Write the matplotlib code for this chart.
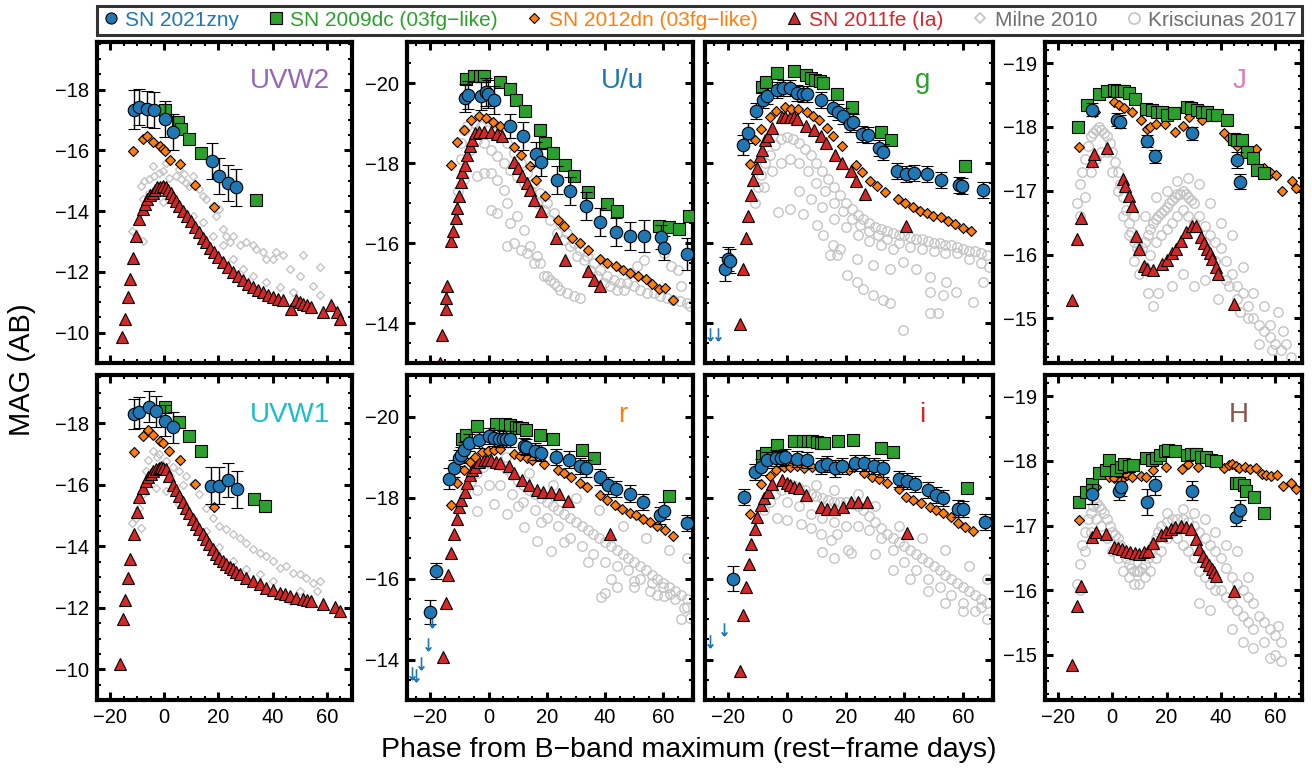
import numpy as np
import matplotlib
matplotlib.use('Agg')
import matplotlib.pyplot as plt
from matplotlib.ticker import MultipleLocator
from matplotlib.lines import Line2D
from matplotlib.path import Path

# ---------------- data (phase [d], abs mag, [err]) ----------------
# UVW2
uvw2_zny = [(-11.1, -17.34, 0.65), (-9.3, -17.43, 0.6), (-6.2, -17.37, 0.6), (-3.7, -17.34, 0.6),
            (0.3, -17.04, 0.6), (3.3, -16.6, 0.6), (17.5, -15.65, 0.6), (20.4, -15.16, 0.6),
            (23.5, -14.92, 0.6), (26.5, -14.78, 0.6)]
uvw2_09dc = [(0.2, -17.34), (5.2, -16.93), (6.2, -16.71), (9.0, -16.38), (13.6, -15.9), (33.7, -14.37)]
uvw2_12dn = [(-11.4, -15.98), (-8.0, -16.38), (-6.2, -16.47), (-4.1, -16.29), (-1.6, -16.14), (-0.6, -16.05),
             (0.2, -15.97), (2.1, -15.7), (5.9, -15.54), (11.5, -14.85), (18.3, -14.14)]
uvw2_11fe = [(-15.4, -9.86), (-14.4, -10.46), (-13.3, -11.17), (-12.6, -11.77), (-11.4, -12.45), (-10.5, -13.19),
             (-9.3, -13.74), (-8.0, -14.07), (-7.0, -14.25), (-6.2, -14.39), (-5.2, -14.52), (-4.3, -14.61),
             (-3.4, -14.7), (-2.5, -14.78), (-1.5, -14.81), (-0.6, -14.83), (0.6, -14.78), (1.5, -14.7),
             (2.5, -14.61), (3.4, -14.48), (4.3, -14.34), (5.5, -14.17), (6.8, -14.0), (8.3, -13.84),
             (9.9, -13.68), (11.5, -13.48), (13.0, -13.3), (14.2, -13.13), (15.4, -12.97), (17.0, -12.8),
             (18.5, -12.64), (20.0, -12.48), (21.6, -12.32), (23.4, -12.15), (25.3, -11.99), (27.1, -11.85),
             (29.0, -11.72), (30.8, -11.6), (32.7, -11.5), (34.5, -11.41), (36.4, -11.33), (38.2, -11.25),
             (40.1, -11.17), (42.0, -11.1), (43.8, -11.06), (46.9, -10.79), (48.8, -11.06), (50.0, -11.0),
             (51.2, -10.95), (52.8, -10.9), (54.3, -10.84), (58.6, -10.68), (61.7, -10.9), (63.6, -10.68),
             (64.8, -10.46)]
uvw2_milne = [(-11.7, -13.36), (-9.9, -13.14), (-8.0, -13.03), (-8.6, -14.83), (-7.4, -15.0), (-5.5, -15.05),
              (-3.7, -15.16), (-1.8, -15.27), (-0.6, -15.33), (1.9, -15.1), (4.3, -15.16), (6.2, -15.05),
              (8.0, -14.94), (9.3, -14.83), (10.5, -15.16), (13.0, -14.72), (14.2, -14.5), (15.4, -14.4),
              (17.9, -14.18), (19.1, -13.85), (20.4, -14.07), (21.6, -13.41), (22.8, -13.19), (24.1, -12.98),
              (25.3, -13.19), (27.8, -12.87), (30.3, -12.98), (32.7, -12.87), (34.0, -12.76), (36.4, -12.65),
              (37.7, -12.43), (40.1, -12.43), (41.4, -12.65), (43.8, -12.54), (46.3, -12.1), (50.0, -11.88),
              (51.2, -12.54), (57.4, -12.16), (57.4, -11.23), (54.9, -11.55), (-8.0, -14.4), (-5.5, -14.61),
              (-3.1, -14.5), (-0.6, -14.29), (3.1, -14.29), (6.8, -14.01), (10.5, -13.85), (14.2, -13.63),
              (17.9, -13.19), (21.6, -12.87), (25.3, -12.43), (29.0, -12.1), (32.7, -11.88), (37.7, -11.66),
              (42.6, -11.5), (47.5, -11.34), (-4.3, -15.49), (0.6, -15.6), (5.6, -15.38), (7.4, -15.22)]

# UVW1
uvw1_zny = [(-11.1, -18.30, 0.5), (-9.2, -18.36, 0.5), (-5.5, -18.54, 0.5), (-3.1, -18.39, 0.5),
            (0.3, -18.09, 0.5), (3.3, -17.87, 0.5), (17.3, -15.97, 0.6), (20.4, -15.97, 0.6),
            (23.5, -16.15, 0.55), (26.8, -15.86, 0.6)]
uvw1_09dc = [(0.3, -18.54), (5.3, -18.03), (9.0, -17.57), (13.6, -17.09), (33.3, -15.53), (37.3, -15.32)]
uvw1_12dn = [(-11.3, -17.05), (-8.0, -17.6), (-5.9, -17.78), (-4.1, -17.63), (-1.6, -17.43), (-0.4, -17.35),
             (1.9, -17.11), (5.8, -16.82), (11.5, -16.04), (18.3, -15.28)]
uvw1_11fe = [(-16.4, -10.17), (-15.2, -11.62), (-14.6, -12.24), (-13.3, -12.98), (-12.6, -13.58), (-11.3, -14.39),
             (-10.2, -15.13), (-9.2, -15.59), (-8.0, -15.91), (-6.8, -16.13), (-5.8, -16.26), (-4.9, -16.35),
             (-4.0, -16.44), (-3.1, -16.51), (-2.1, -16.56), (-1.2, -16.59), (-0.3, -16.56), (0.6, -16.51),
             (1.9, -16.29), (3.1, -16.0), (4.3, -15.82), (5.6, -15.64), (6.8, -15.45), (8.0, -15.26),
             (9.3, -15.07), (10.5, -14.88), (11.7, -14.71), (13.0, -14.55), (14.2, -14.39), (15.4, -14.23),
             (16.7, -14.06), (17.9, -13.9), (19.1, -13.76), (20.4, -13.63), (21.6, -13.52), (22.9, -13.41),
             (24.1, -13.33), (25.3, -13.25), (26.6, -13.17), (27.8, -13.09), (30.3, -12.98), (32.7, -12.87),
             (35.2, -12.76), (37.7, -12.65), (40.1, -12.57), (42.6, -12.49), (44.5, -12.44), (46.3, -12.38),
             (48.8, -12.33), (51.2, -12.27), (52.8, -12.24), (54.3, -12.22), (58.7, -12.11), (63.0, -12.02),
             (64.8, -11.89)]
uvw1_milne = [(-11.7, -14.77), (-10.5, -14.93), (-8.6, -14.61), (-9.2, -15.26), (-8.0, -15.7), (-6.8, -16.46),
              (-4.3, -17.11), (-1.8, -17.0), (0.6, -16.78), (3.1, -16.57), (5.6, -16.46), (8.0, -16.29),
              (10.5, -16.02), (13.0, -15.7), (15.4, -15.26), (17.9, -14.93), (20.4, -14.66), (22.9, -14.55),
              (25.3, -14.39), (27.8, -14.28), (30.3, -14.12), (32.7, -13.9), (35.2, -13.79), (37.7, -13.68),
              (40.1, -13.52), (42.6, -13.3), (45.1, -13.36), (47.5, -13.14), (50.0, -13.09), (52.5, -12.98),
              (54.9, -12.82), (57.4, -12.87), (56.2, -12.54), (-3.1, -15.91), (0.6, -15.8), (5.6, -15.37),
              (10.5, -14.93), (15.4, -14.5), (20.4, -13.96), (25.3, -13.52), (30.3, -13.25), (35.2, -13.09),
              (40.1, -12.87), (46.3, -12.22), (50.0, -12.54), (-6.0, -16.8), (-2.5, -16.9), (2.0, -16.3),
              (7.0, -16.0)]

# U/u
u_zny = [(-8.2, -19.63, 0.35), (-7.1, -19.71, 0.35), (-2.7, -19.69, 0.35), (-1.0, -19.79, 0.35),
         (-0.2, -19.73, 0.35), (1.8, -19.58, 0.35), (7.3, -18.93, 0.3), (11.7, -18.68, 0.35),
         (16.2, -18.22, 0.3), (18.1, -18.04, 0.35), (23.5, -17.57, 0.35), (28.0, -17.31, 0.35),
         (33.3, -16.92, 0.35), (38.2, -16.53, 0.35), (43.7, -16.28, 0.35), (48.7, -16.17, 0.35),
         (53.3, -16.18, 0.4), (59.2, -16.15, 0.3), (60.3, -15.88, 0.3), (68.1, -15.73, 0.4)]
u_09dc = [(-7.9, -20.1), (-5.0, -20.17), (-3.0, -20.18), (-1.6, -20.17), (3.9, -20.03), (7.3, -19.85),
          (9.5, -19.58), (12.6, -19.31), (17.5, -18.82), (19.5, -18.5), (22.1, -18.25), (26.4, -17.96),
          (29.5, -17.69), (34.2, -17.29), (40.5, -16.98), (44.1, -16.79), (58.4, -16.43), (61.8, -16.4),
          (65.3, -16.35), (68.7, -16.67)]
u_12dn = [(-12.8, -17.96), (-10.8, -18.54), (-8.5, -18.83), (-6.0, -19.08), (-3.4, -19.19), (-1.0, -19.13),
          (1.6, -19.04), (4.1, -18.92), (8.9, -18.4), (11.2, -18.21), (14.2, -17.92), (16.2, -17.58),
          (19.5, -17.19), (23.8, -16.58), (25.8, -16.43), (28.7, -16.13), (31.3, -16.0), (34.1, -15.83),
          (38.4, -15.6), (40.7, -15.5), (43.8, -15.42), (46.2, -15.33), (48.7, -15.25), (51.2, -15.17),
          (53.9, -15.1), (56.2, -14.98), (58.4, -14.85), (60.5, -14.88), (63.5, -14.58)]
u_11fe = [(-16.5, -13.0), (-15.9, -13.71), (-14.7, -14.35), (-14.5, -14.63), (-14.1, -14.93), (-12.8, -16.04),
          (-12.1, -16.31), (-11.2, -16.62), (-10.8, -16.88), (-10.2, -17.17), (-9.6, -17.54), (-9.0, -17.79),
          (-8.2, -17.96), (-7.3, -18.21), (-6.5, -18.42), (-5.6, -18.58), (-4.5, -18.75), (-3.3, -18.79),
          (-1.6, -18.79), (0.7, -18.77), (3.0, -18.73), (4.7, -18.67), (8.9, -18.04), (10.1, -17.88),
          (11.5, -17.67), (13.3, -17.5), (14.4, -17.33), (15.5, -17.08), (18.1, -16.79), (23.3, -16.13),
          (26.4, -15.58), (34.1, -15.29), (36.1, -15.08), (38.4, -14.93)]
u_kris = [(-9.6, -18.5), (-8.5, -18.83), (-7.3, -18.92), (-5.0, -19.0), (-2.7, -18.92), (-0.5, -18.83),
          (1.8, -18.75), (4.1, -18.67), (6.4, -18.5), (8.7, -18.25), (11.0, -18.0), (13.3, -17.75),
          (15.5, -17.5), (17.8, -17.25), (20.1, -17.0), (22.4, -16.75), (24.7, -16.5), (27.0, -16.25),
          (29.3, -16.0), (31.5, -15.83), (33.8, -15.67), (36.1, -15.5), (38.4, -15.33), (40.7, -15.17),
          (43.0, -15.08), (45.3, -15.0), (47.5, -15.0), (49.8, -14.92), (52.1, -14.83), (54.4, -14.75),
          (56.7, -14.75), (59.0, -14.67), (61.3, -14.63), (63.5, -14.58), (65.8, -14.54), (68.1, -14.5),
          (69.3, -14.42), (-6.2, -18.33), (-3.9, -18.58), (-1.6, -18.5), (0.7, -18.33), (3.0, -18.17),
          (5.3, -18.0), (7.5, -17.83), (9.8, -17.67), (12.1, -17.5), (14.4, -17.33), (16.7, -17.0),
          (18.9, -16.83), (21.2, -16.58), (23.5, -16.25), (25.8, -16.08), (28.1, -15.92), (30.4, -15.67),
          (32.7, -15.58), (34.9, -15.33), (37.2, -15.17), (39.5, -15.0), (41.8, -14.92), (44.1, -14.83),
          (46.4, -14.83), (48.7, -15.25), (51.0, -15.42), (53.3, -15.58), (60.1, -15.75), (62.6, -15.42),
          (64.9, -15.33), (66.1, -14.92), (-3.9, -17.67), (-1.6, -17.75), (0.7, -17.75), (3.0, -17.58),
          (5.3, -17.33), (6.4, -17.0), (0.7, -16.83), (3.0, -16.75), (7.5, -16.5), (9.8, -16.67),
          (12.1, -16.33), (14.4, -15.92), (16.7, -15.67), (17.8, -15.5), (20.1, -15.17), (22.4, -15.0),
          (24.7, -14.83), (27.0, -14.75), (29.3, -14.67), (31.5, -14.63), (6.4, -15.92), (8.7, -16.0),
          (11.0, -15.83), (13.3, -15.75), (15.5, -15.5), (19.0, -15.17), (21.2, -15.08), (23.5, -14.92),
          (-9.6, -18.1), (-8.5, -17.6), (-10.5, -17.3)]

# g
g_zny = [(-21.3, -15.36, 0.3), (-20.3, -15.59, 0.3), (-19.4, -15.55, 0.3), (-14.9, -18.46, 0.25),
         (-13.5, -18.75, 0.25), (-10.6, -19.31, 0.2), (-8.3, -19.58, 0.2), (-6.9, -19.69, 0.2),
         (-3.5, -19.84, 0.2), (-1.3, -19.89, 0.2), (1.0, -19.87, 0.2), (3.5, -19.76, 0.2), (5.3, -19.74, 0.2),
         (6.7, -19.74, 0.2), (11.6, -19.58, 0.2), (15.5, -19.37, 0.2), (17.5, -19.29, 0.2), (19.2, -19.18, 0.2),
         (21.6, -18.98, 0.2), (22.6, -19.02, 0.2), (25.7, -18.73, 0.2), (27.7, -18.7, 0.2), (31.2, -18.38, 0.2),
         (32.8, -18.27, 0.2), (37.3, -17.8, 0.2), (40.5, -17.73, 0.2), (43.2, -17.76, 0.2), (47.7, -17.72, 0.2),
         (52.6, -17.58, 0.2), (58.6, -17.46, 0.2), (59.7, -17.43, 0.2), (66.8, -17.33, 0.2)]
g_09dc = [(-8.6, -19.91), (-7.1, -20.03), (-3.3, -20.26), (2.5, -20.31), (6.5, -20.2), (8.0, -20.14),
          (9.5, -20.09), (11.2, -20.06), (12.4, -20.01), (16.9, -19.73), (22.2, -19.4), (31.9, -18.79),
          (35.5, -18.59), (60.5, -17.92)]
g_12dn = [(-12.8, -17.97), (-10.9, -18.57), (-9.0, -18.85), (-6.0, -19.15), (-3.7, -19.31), (-0.7, -19.4),
          (1.2, -19.36), (3.8, -19.35), (6.7, -19.29), (8.7, -19.18), (10.9, -19.07), (13.5, -18.87),
          (15.8, -18.68), (18.6, -18.42), (23.4, -17.95), (25.6, -17.77), (28.2, -17.55), (30.7, -17.43),
          (33.3, -17.29), (37.9, -17.1), (40.1, -17.0), (43.0, -16.91), (45.2, -16.81), (47.7, -16.75),
          (49.8, -16.68), (52.6, -16.64), (54.9, -16.54), (57.1, -16.48), (60.0, -16.38), (62.8, -16.29)]
g_11fe = [(-16.0, -13.97), (-15.2, -15.36), (-14.0, -16.12), (-13.2, -16.68), (-12.4, -17.2), (-11.5, -17.58),
          (-10.1, -17.88), (-9.4, -18.17), (-8.5, -18.32), (-7.5, -18.59), (-6.6, -18.68), (-5.2, -18.87),
          (-1.8, -19.15), (-0.7, -19.15), (1.0, -19.15), (2.4, -19.15), (3.5, -19.1), (6.5, -18.93),
          (9.2, -18.83), (11.6, -18.68), (13.3, -18.5), (16.3, -18.21), (18.8, -18.01), (21.8, -17.8),
          (23.5, -17.55), (26.5, -17.22), (40.5, -16.42)]
g_kris = [(-11, -17.0), (-10, -17.4), (-9, -17.7), (-7.5, -18.0), (-6, -18.2), (-4, -18.45), (-2, -18.6),
          (0, -18.65), (2, -18.6), (4, -18.5), (6, -18.35), (8, -18.2), (10, -18.0), (12, -17.8), (14, -17.6),
          (16, -17.4), (18, -17.2), (20, -17.0), (22, -16.85), (24, -16.7), (26, -16.6), (28, -16.5),
          (30, -16.4), (32, -16.35), (34, -16.3), (36, -16.25), (38, -16.2), (40, -16.2), (42, -16.15),
          (44, -16.1), (46, -16.1), (48, -16.05), (50, -16.0), (52, -16.0), (54, -15.95), (56, -15.95),
          (58, -15.9), (60, -15.85), (62, -15.8), (64, -15.8), (66, -15.75), (68, -15.7), (69, -15.4),
          (-8, -17.4), (-5, -17.8), (-2, -18.0), (1, -18.1), (4, -18.0), (7, -17.8), (10, -17.5), (13, -17.3),
          (16, -17.0), (19, -16.8), (22, -16.6), (25, -16.45), (28, -16.3), (31, -16.2), (34, -16.1),
          (38, -16.0), (42, -15.9), (46, -15.85), (50, -15.8), (54, -15.75), (58, -15.75), (62, -15.6),
          (66, -15.5), (4, -17.3), (8, -17.1), (12, -16.9), (16, -16.6), (20, -16.4), (24, -16.2), (28, -16.05),
          (32, -15.95), (36, -15.85), (-3.0, -16.77), (1.0, -16.85), (5.5, -16.72), (10.1, -16.44),
          (12.4, -16.19), (15.8, -15.94), (16.9, -15.69), (20.3, -15.2), (23.7, -15.03), (26.0, -14.86),
          (29.4, -14.7), (32.8, -14.57), (35.0, -14.49), (48.6, -14.24), (51.5, -14.24), (39.6, -13.83),
          (14.6, -15.69), (18.0, -15.86), (23.7, -15.61), (29.4, -15.44), (35.0, -15.36), (39.6, -15.52),
          (44.1, -15.36), (48.6, -15.15), (54.3, -15.03), (57.7, -14.78), (63.4, -14.53), (66.8, -15.03),
          (48.6, -14.78), (53.2, -14.7)]
g_lim = [(-26.2, -13.73), (-23.4, -13.73)]

# r
r_zny = [(-20.2, -15.18, 0.3), (-18.2, -16.19, 0.2), (-13.6, -18.47, 0.25), (-11.7, -18.72, 0.2),
         (-10.1, -18.97, 0.2), (-9.6, -19.06, 0.2), (-8.5, -19.18, 0.2), (-6.7, -19.36, 0.2), (-3.3, -19.42, 0.2),
         (0.1, -19.52, 0.2), (1.8, -19.48, 0.2), (3.5, -19.46, 0.2), (4.9, -19.45, 0.2), (6.1, -19.44, 0.2),
         (7.3, -19.44, 0.2), (12.1, -19.27, 0.2), (13.0, -19.26, 0.2), (16.1, -19.14, 0.2), (18.1, -19.11, 0.2),
         (23.3, -19.01, 0.2), (27.7, -18.94, 0.2), (31.3, -18.78, 0.2), (33.3, -18.72, 0.2), (38.4, -18.51, 0.2),
         (41.0, -18.3, 0.2), (43.8, -18.22, 0.2), (48.7, -18.1, 0.2), (53.0, -17.89, 0.2), (59.0, -17.56, 0.2),
         (60.1, -17.68, 0.2), (68.1, -17.38, 0.2)]
r_09dc = [(-9.0, -19.46), (-7.9, -19.54), (-3.9, -19.77), (2.4, -19.83), (5.5, -19.81), (7.5, -19.79),
          (9.3, -19.75), (10.4, -19.73), (11.5, -19.71), (13.0, -19.67), (17.6, -19.54), (22.2, -19.44),
          (32.1, -19.17), (36.3, -18.98), (61.8, -18.05)]
r_12dn = [(-12.8, -17.82), (-10.7, -18.36), (-8.5, -18.68), (-6.4, -18.89), (-4.5, -19.01), (-2.2, -19.12),
          (-0.2, -19.15), (1.8, -19.18), (4.1, -19.19), (8.7, -19.09), (10.9, -19.03), (13.3, -18.98),
          (15.0, -18.94), (19.0, -18.83), (23.8, -18.68), (25.8, -18.6), (28.3, -18.5), (31.3, -18.36),
          (33.8, -18.26), (38.4, -18.06), (40.7, -17.93), (43.3, -17.83), (45.8, -17.73), (48.5, -17.62),
          (50.7, -17.56), (53.0, -17.48), (55.3, -17.4), (57.8, -17.31), (60.7, -17.19), (63.3, -17.05)]
r_11fe = [(-15.7, -14.06), (-14.7, -15.39), (-13.8, -16.09), (-12.8, -16.62), (-11.9, -17.09), (-11.0, -17.46),
          (-10.1, -17.76), (-9.3, -17.95), (-8.2, -18.14), (-7.3, -18.35), (-6.4, -18.56), (-5.6, -18.68),
          (-4.8, -18.75), (-3.3, -18.88), (-1.6, -18.93), (-0.5, -18.93), (0.7, -18.92), (2.4, -18.89),
          (4.1, -18.85), (7.0, -18.77), (8.7, -18.61), (11.5, -18.44), (13.8, -18.32), (16.7, -18.2),
          (18.7, -18.13), (21.3, -18.15), (24.1, -18.1), (27.2, -17.91), (41.6, -17.11)]
r_kris = [(-8, -18.2), (-6, -18.4), (-4, -18.6), (-2, -18.75), (0, -18.85), (2, -18.85), (4, -18.8),
          (6, -18.7), (8, -18.55), (10, -18.4), (12, -18.3), (14, -18.2), (16, -18.1), (18, -18.0),
          (20, -17.9), (22, -17.8), (24, -17.7), (26, -17.6), (28, -17.5), (30, -17.4), (32, -17.3),
          (34, -17.2), (36, -17.1), (38, -17.0), (40, -16.9), (42, -16.8), (44, -16.7), (46, -16.6),
          (48, -16.5), (50, -16.4), (52, -16.3), (54, -16.2), (56, -16.1), (58, -16.0), (60, -15.9),
          (62, -15.8), (64, -15.7), (66, -15.6), (68, -15.5), (-4, -18.2), (0, -18.3), (4, -18.3), (8, -18.1),
          (12, -17.9), (16, -17.7), (20, -17.5), (24, -17.3), (28, -17.0), (32, -16.8), (36, -16.6),
          (40, -16.4), (44, -16.3), (48, -16.2), (52, -16.0), (56, -15.9), (60, -15.8), (64, -15.5),
          (68, -15.3), (10, -17.8), (18, -17.4), (26, -16.9), (34, -16.4), (42, -16.0), (50, -15.8),
          (58, -15.6), (66, -15.0), (6, -19.0), (14, -18.6), (22, -18.3), (30, -18.0), (38, -17.7),
          (46, -17.3), (54, -17.0), (62, -16.7), (68, -16.5), (-3.9, -17.68), (1.8, -17.85), (6.4, -17.6),
          (12.1, -17.27), (16.7, -16.94), (21.3, -16.69), (40.1, -15.65), (44.1, -15.78), (49.8, -15.94),
          (55.5, -15.7), (60.1, -15.57), (62.4, -15.61), (67.0, -15.28), (69.3, -15.03), (38.5, -15.55)]
r_lim = [(-26.2, -13.67), (-25.0, -13.63), (-23.3, -13.92), (-20.8, -14.39), (-19.3, -14.95)]

# i
i_zny = [(-18.3, -16.0, 0.3), (-14.6, -18.01, 0.2), (-10.9, -18.64, 0.2), (-8.9, -18.75, 0.2), (-6.9, -18.92, 0.2),
         (-3.7, -18.98, 0.2), (-2.1, -18.98, 0.2), (-0.6, -19.0, 0.2), (3.4, -18.95, 0.2), (6.9, -18.93, 0.2),
         (11.7, -18.78, 0.2), (13.7, -18.83, 0.2), (16.2, -18.72, 0.2), (18.6, -18.78, 0.2), (23.1, -18.86, 0.2),
         (26.3, -18.86, 0.2), (29.5, -18.78, 0.2), (32.6, -18.72, 0.2), (38.0, -18.47, 0.2), (41.0, -18.41, 0.2),
         (43.7, -18.33, 0.2), (48.0, -18.18, 0.2), (50.9, -18.06, 0.2), (53.1, -18.0, 0.2), (58.3, -17.73, 0.2),
         (60.0, -17.71, 0.2), (67.4, -17.39, 0.2)]
i_09dc = [(-8.6, -19.02), (-7.1, -19.1), (-3.4, -19.31), (2.5, -19.41), (5.5, -19.41), (7.1, -19.4),
          (8.6, -19.39), (10.1, -19.37), (11.4, -19.36), (12.6, -19.35), (17.5, -19.41), (22.5, -19.43),
          (32.0, -19.22), (36.0, -19.12), (61.5, -18.23)]
i_12dn = [(-12.8, -17.59), (-8.9, -18.33), (-5.9, -18.53), (-3.7, -18.68), (-1.1, -18.75), (1.1, -18.75),
          (3.4, -18.77), (5.7, -18.72), (8.6, -18.75), (10.9, -18.75), (16.0, -18.68), (19.2, -18.78),
          (21.1, -18.68), (22.9, -18.76), (26.3, -18.62), (29.1, -18.52), (31.2, -18.45), (34.1, -18.35),
          (38.3, -18.21), (40.6, -18.02), (42.9, -17.94), (45.7, -17.86), (48.6, -17.77), (50.9, -17.69),
          (53.1, -17.63), (55.8, -17.53), (58.3, -17.38), (60.6, -17.28), (63.4, -17.18)]
i_11fe = [(-16.2, -13.71), (-15.1, -15.09), (-13.9, -15.79), (-13.1, -16.37), (-12.3, -16.85), (-10.9, -17.22),
          (-10.1, -17.51), (-8.9, -17.82), (-8.0, -17.98), (-6.6, -18.15), (-5.1, -18.34), (-1.7, -18.44),
          (-0.2, -18.37), (1.1, -18.31), (2.5, -18.27), (4.0, -18.23), (6.6, -18.07), (11.4, -17.78),
          (13.5, -17.72), (16.0, -17.73), (18.9, -17.78), (21.7, -17.88), (24.0, -17.88), (27.2, -17.88),
          (40.9, -17.13)]
i_kris = [(-8, -17.7), (-6, -17.9), (-4, -18.1), (-2, -18.2), (0, -18.3), (2, -18.3), (4, -18.25), (6, -18.2),
          (8, -18.1), (10, -18.05), (12, -18.0), (14, -17.95), (16, -17.9), (18, -17.9), (20, -17.9),
          (22, -17.85), (24, -17.8), (26, -17.7), (28, -17.55), (30, -17.4), (32, -17.25), (34, -17.1),
          (36, -17.0), (38, -16.9), (40, -16.8), (42, -16.7), (44, -16.6), (46, -16.5), (48, -16.4),
          (50, -16.3), (52, -16.2), (54, -16.1), (56, -16.0), (58, -15.9), (60, -15.8), (62, -15.7),
          (64, -15.6), (66, -15.5), (68, -15.4), (0, -17.9), (4, -17.8), (8, -17.6), (12, -17.5), (16, -17.4),
          (20, -17.3), (24, -17.3), (28, -17.2), (32, -17.0), (36, -16.7), (40, -16.4), (44, -16.2),
          (48, -16.0), (52, -15.8), (56, -15.6), (60, -15.4), (64, -15.2), (68, -15.0), (30, -16.6),
          (36, -16.2), (42, -16.0), (48, -15.7), (54, -15.4), (60, -15.2), (66, -15.3), (10, -18.3),
          (16, -18.2), (24, -18.1), (30, -17.8), (38, -17.3), (46, -17.0), (54, -16.7), (62, -16.3),
          (68, -16.0), (-3.4, -17.49), (0, -17.44), (4.6, -17.36), (8.0, -17.24), (11.4, -17.11),
          (14.9, -16.95), (17.1, -17.11), (20.6, -16.7), (21.7, -16.62), (12.0, -16.66), (16.0, -16.5)]
i_lim = [(-26.3, -14.47), (-21.5, -14.76)]

# J
j_zny = [(-7.4, -18.27, 0.1), (1.8, -18.11, 0.1), (2.7, -18.08, 0.1), (12.9, -17.78, 0.1), (15.7, -17.54, 0.1),
         (29.2, -17.9, 0.1), (45.8, -17.48, 0.12), (46.9, -17.14, 0.12)]
j_09dc = [(-12.5, -18.0), (-9.2, -18.35), (-4.9, -18.51), (-1.8, -18.56), (0.6, -18.58), (1.8, -18.57),
          (3.1, -18.57), (4.3, -18.56), (6.1, -18.53), (8.4, -18.43), (12.3, -18.28), (14.7, -18.27),
          (16.6, -18.24), (18.4, -18.23), (20.3, -18.19), (22.7, -18.22), (27.6, -18.31), (28.9, -18.3),
          (31.3, -18.27), (33.2, -18.24), (35.0, -18.24), (36.9, -18.19), (38.7, -18.18), (42.4, -18.11),
          (44.8, -17.81), (46.1, -17.8), (47.7, -17.8), (49.8, -17.6), (51.8, -17.51), (53.4, -17.33),
          (55.9, -17.28)]
j_12dn = [(-12.3, -17.69), (-6.4, -18.24), (0.6, -18.39), (2.5, -18.35), (4.3, -18.3), (7.1, -18.24),
          (10.4, -18.11), (12.9, -17.96), (13.8, -18.0), (16.0, -18.05), (19.4, -18.04), (23.1, -17.92),
          (26.0, -18.01), (28.3, -18.16), (33.2, -18.1), (41.2, -17.91), (43.0, -17.83), (44.3, -17.78),
          (46.1, -17.7), (48.9, -17.6), (52.8, -17.65), (55.9, -17.36), (58.4, -17.28), (60.2, -17.25),
          (62.7, -16.99), (66.1, -17.15), (67.6, -17.05)]
j_11fe = [(-14.7, -15.28), (-12.9, -16.24), (-11.7, -16.57), (-7.6, -17.46), (-6.8, -17.58), (-1.8, -17.67),
          (3.9, -17.18), (4.7, -17.07), (6.1, -16.92), (7.1, -16.76), (8.6, -16.29), (9.8, -16.08),
          (11.7, -15.82), (12.9, -15.77), (15.0, -15.76), (18.2, -15.85), (20.3, -15.92), (21.9, -16.03),
          (23.3, -16.08), (25.2, -16.21), (27.3, -16.35), (29.2, -16.44), (31.0, -16.45), (32.6, -16.28),
          (33.8, -16.18), (35.0, -16.09), (35.9, -16.02), (36.9, -15.93), (38.1, -15.81), (39.1, -15.69),
          (44.8, -15.22)]
j_kris = [(-13, -16.8), (-12, -17.1), (-11, -17.3), (-10, -17.5), (-9, -17.7), (-8, -17.85), (-7, -17.9),
          (-6, -17.95), (-5, -18.0), (-4, -17.95), (-3, -17.9), (-2, -17.85), (-1, -17.75), (0, -17.6),
          (1, -17.45), (2, -17.3), (3, -17.1), (4, -16.9), (5, -16.7), (6, -16.5), (7, -16.35), (8, -16.2),
          (9, -16.1), (10, -16.05), (11, -16.1), (12, -16.2), (13, -16.3), (14, -16.4), (15, -16.5),
          (16, -16.55), (17, -16.6), (18, -16.65), (19, -16.7), (20, -16.75), (21, -16.8), (22, -16.85),
          (23, -16.9), (24, -16.95), (25, -16.95), (26, -17.0), (27, -16.95), (28, -16.9), (29, -16.85),
          (30, -16.8), (32, -16.6), (34, -16.45), (36, -16.3), (38, -16.2), (40, -16.1), (42, -15.9),
          (44, -15.7), (46, -15.5), (48, -15.4), (50, -15.2), (52, -15.0), (54, -14.9), (56, -14.8),
          (58, -14.7), (60, -14.6), (62, -14.5), (64, -14.6), (66, -14.4), (-12, -16.6), (-10, -16.9),
          (-8, -17.3), (-6, -17.5), (-4, -17.6), (-2, -17.6), (0, -17.3), (2, -17.0), (4, -16.6), (6, -16.3),
          (8, -15.9), (10, -15.7), (12, -15.8), (14, -16.0), (16, -16.2), (18, -16.3), (20, -16.4),
          (22, -16.5), (24, -16.6), (26, -16.7), (28, -16.6), (30, -16.5), (34, -16.2), (38, -15.9),
          (42, -15.6), (46, -15.3), (50, -15.0), (8, -16.6), (12, -16.6), (16, -16.9), (20, -17.0),
          (24, -17.15), (28, -17.2), (32, -17.1), (36, -16.8), (40, -16.5), (44, -16.3), (48, -15.8),
          (13, -15.4), (15, -15.2), (17, -15.4), (22, -15.5), (26, -15.7), (30, -15.5), (34, -15.6),
          (39, -15.3), (43, -15.5), (47, -15.1), (52, -15.4), (56, -15.2), (58, -14.9), (61, -15.1),
          (54, -14.6), (59, -14.5), (63, -14.8)]

# H
h_zny = [(-7.4, -17.49, 0.15), (2.5, -17.54, 0.15), (3.1, -17.6, 0.15), (12.9, -17.36, 0.2), (15.7, -17.62, 0.15),
         (29.2, -17.54, 0.15), (45.7, -17.14, 0.15), (46.9, -17.24, 0.15)]
h_09dc = [(-12.3, -17.36), (-9.6, -17.52), (-7.4, -17.64), (-4.9, -17.81), (-2.5, -17.86), (-1.2, -18.01),
          (1.2, -17.86), (3.1, -17.91), (4.3, -17.96), (6.1, -17.92), (7.6, -17.94), (12.3, -18.04),
          (14.5, -18.01), (16.0, -18.04), (17.4, -18.09), (19.4, -18.16), (20.6, -18.17), (23.1, -18.16),
          (27.6, -18.09), (28.9, -18.1), (30.7, -18.1), (32.6, -18.06), (34.4, -18.06), (36.5, -18.01),
          (38.3, -18.0), (45.5, -17.66), (46.7, -17.66), (48.6, -17.62), (49.1, -17.54), (52.2, -17.44),
          (55.9, -17.19)]
h_12dn = [(-12.3, -17.08), (-5.9, -17.6), (-1.2, -17.75), (0.6, -17.73), (3.1, -17.71), (5.5, -17.78),
          (7.4, -17.75), (10.4, -17.76), (12.3, -17.75), (15.0, -17.86), (19.7, -17.91), (25.6, -17.87),
          (28.0, -17.96), (31.7, -17.9), (41.2, -17.89), (43.0, -17.93), (44.2, -17.96), (45.7, -17.92),
          (46.7, -17.89), (48.9, -17.91), (50.6, -17.88), (52.8, -17.89), (55.3, -17.8), (56.8, -17.78),
          (58.4, -17.76), (60.8, -17.78), (62.9, -17.61), (65.8, -17.66), (67.6, -17.57)]
h_11fe = [(-14.7, -14.84), (-12.9, -15.76), (-11.7, -16.07), (-7.6, -16.82), (-6.1, -16.9), (-2.2, -16.87),
          (0.6, -16.67), (2.2, -16.66), (3.7, -16.64), (4.9, -16.61), (6.4, -16.59), (8.4, -16.57),
          (9.8, -16.56), (11.7, -16.59), (13.3, -16.61), (15.0, -16.73), (17.8, -16.86), (19.7, -16.9),
          (21.6, -16.95), (23.1, -16.98), (25.2, -17.0), (27.0, -16.98), (28.9, -16.95), (30.7, -16.79),
          (31.9, -16.64), (33.4, -16.53), (34.4, -16.45), (35.6, -16.39), (36.6, -16.33), (37.5, -16.28),
          (38.3, -16.22), (44.8, -15.98)]
h_kris = [(-13, -16.1), (-12, -16.4), (-11, -16.7), (-10, -16.9), (-9, -17.1), (-8, -17.2), (-7, -17.3),
          (-6, -17.35), (-5, -17.3), (-4, -17.25), (-3, -17.2), (-2, -17.1), (-1, -17.0), (0, -16.9),
          (1, -16.85), (2, -16.8), (3, -16.7), (4, -16.6), (5, -16.5), (6, -16.4), (7, -16.35), (8, -16.3),
          (9, -16.3), (10, -16.3), (11, -16.35), (12, -16.4), (13, -16.5), (14, -16.6), (15, -16.7),
          (16, -16.8), (17, -16.9), (18, -17.0), (20, -17.05), (22, -17.1), (24, -17.1), (26, -17.1),
          (28, -17.05), (30, -17.0), (32, -16.9), (34, -16.8), (36, -16.7), (38, -16.6), (40, -16.5),
          (42, -16.35), (44, -16.2), (46, -16.1), (48, -16.0), (50, -15.9), (52, -15.8), (54, -15.6),
          (56, -15.5), (58, -15.4), (60, -15.3), (62, -15.2), (-12, -16.0), (-10, -16.6), (-8, -16.9),
          (-6, -17.1), (-4, -17.0), (-2, -16.8), (0, -16.6), (2, -16.5), (4, -16.3), (6, -16.2), (8, -16.1),
          (10, -16.1), (12, -16.2), (14, -16.3), (16, -16.5), (18, -16.6), (20, -16.8), (22, -16.9),
          (24, -16.8), (26, -16.7), (28, -16.6), (30, -16.5), (32, -16.3), (34, -16.2), (36, -16.1),
          (38, -16.0), (40, -16.0), (42, -15.9), (44, -15.8), (46, -15.7), (48, -15.6), (50, -15.5),
          (52, -15.4), (20, -17.2), (26, -17.25), (30, -17.2), (34, -17.1), (38, -16.9), (42, -16.7),
          (46, -16.6), (50, -16.2), (32, -15.8), (36, -15.7), (44, -15.4), (48, -15.2), (52, -15.1),
          (56, -15.2), (60, -15.0), (61, -15.45), (58, -14.95), (62, -14.9)]

band_names = ['UVW2', 'U/u', 'g', 'J', 'UVW1', 'r', 'i', 'H']
band_colors = ['#9467bd', '#1f77b4', '#2ca02c', '#e377c2', '#17becf', '#ff7f0e', '#d62728', '#8c564b']
legend_labels = ['SN 2021zny', 'SN 2009dc (03fg\u2212like)', 'SN 2012dn (03fg\u2212like)',
                 'SN 2011fe (Ia)', 'Milne 2010', 'Krisciunas 2017']

# ---------------- figure ----------------
plt.rcParams['font.family'] = ['Liberation Sans', 'DejaVu Sans']
W, H = 1312, 773
fig = plt.figure(figsize=(W / 100, H / 100), dpi=100)

BLUE, GREEN, ORANGE, RED, GREY = '#1f77b4', '#2ca02c', '#ff7f0e', '#d62728', '#c4c4c4'

# thin down-arrow marker for upper limits
arrow = Path([(0, 1), (0, -1), (-0.45, -0.45), (0, -1), (0.45, -0.45)],
             [Path.MOVETO, Path.LINETO, Path.MOVETO, Path.LINETO, Path.LINETO])

col_px = [(97, 352), (407, 693), (705, 993), (1045, 1302)]
row_px = [(42, 363), (375, 700)]
col_xlim = [(-24.8, 69.3), (-28.0, 70.2), (-28.0, 70.2), (-24.8, 69.9)]
col_ylim = [(-9.0, -19.57), (-13.0, -21.03), (-13.0, -21.03), (-14.3, -19.33)]

panels = [
    dict(zny=uvw2_zny, dc=uvw2_09dc, dn=uvw2_12dn, fe=uvw2_11fe, milne=uvw2_milne),
    dict(zny=u_zny, dc=u_09dc, dn=u_12dn, fe=u_11fe, kris=u_kris),
    dict(zny=g_zny, dc=g_09dc, dn=g_12dn, fe=g_11fe, kris=g_kris, lim=g_lim),
    dict(zny=j_zny, dc=j_09dc, dn=j_12dn, fe=j_11fe, kris=j_kris),
    dict(zny=uvw1_zny, dc=uvw1_09dc, dn=uvw1_12dn, fe=uvw1_11fe, milne=uvw1_milne),
    dict(zny=r_zny, dc=r_09dc, dn=r_12dn, fe=r_11fe, kris=r_kris, lim=r_lim),
    dict(zny=i_zny, dc=i_09dc, dn=i_12dn, fe=i_11fe, kris=i_kris, lim=i_lim),
    dict(zny=h_zny, dc=h_09dc, dn=h_12dn, fe=h_11fe, kris=h_kris),
]


def cols(data):
    a = np.array(data, dtype=float)
    return [a[:, k] for k in range(a.shape[1])]


for k, p in enumerate(panels):
    row, col = divmod(k, 4)
    x0, x1 = col_px[col]
    y0, y1 = row_px[row]
    ax = fig.add_axes([x0 / W, 1 - y1 / H, (x1 - x0) / W, (y1 - y0) / H])

    if 'milne' in p:
        t, m = cols(p['milne'])
        ax.plot(t, m, ls='none', marker='D', ms=4.2, mfc='none', mec=GREY, mew=1.0, zorder=1)
    if 'kris' in p:
        t, m = cols(p['kris'])
        ax.plot(t, m, ls='none', marker='o', ms=6.8, mfc='none', mec=GREY, mew=1.0, zorder=1)
    t, m = cols(p['fe'])
    ax.plot(t, m, ls='none', marker='^', ms=8, mfc=RED, mec='k', mew=0.8, zorder=2)
    t, m = cols(p['dn'])
    ax.plot(t, m, ls='none', marker='D', ms=5.2, mfc=ORANGE, mec='k', mew=0.8, zorder=3)
    t, m = cols(p['dc'])
    ax.plot(t, m, ls='none', marker='s', ms=8, mfc=GREEN, mec='k', mew=0.8, zorder=4)
    t, m, e = cols(p['zny'])
    ax.errorbar(t, m, yerr=e, fmt='o', ms=9, mfc=BLUE, mec='k', mew=0.8, ecolor='k',
                elinewidth=1, capsize=4, capthick=1, zorder=5)
    if 'lim' in p:
        t, m = cols(p['lim'])
        ax.plot(t, m, ls='none', marker=arrow, ms=9, mfc='none', mec=BLUE, mew=1.2, zorder=5)

    ax.set_xlim(*col_xlim[col])
    ax.set_ylim(*col_ylim[col])
    ax.xaxis.set_major_locator(MultipleLocator(20))
    ax.xaxis.set_minor_locator(MultipleLocator(5))
    if col == 3:
        ax.yaxis.set_major_locator(MultipleLocator(1))
        ax.yaxis.set_minor_locator(MultipleLocator(0.2))
    else:
        ax.yaxis.set_major_locator(MultipleLocator(2))
        ax.yaxis.set_minor_locator(MultipleLocator(0.5))
    ax.tick_params(which='both', direction='in', top=True, right=True, labelsize=14.5)
    ax.tick_params(which='major', length=6, width=2.2, pad=6)
    ax.tick_params(which='minor', length=3, width=1.5)
    ax.tick_params(axis='x', labelbottom=(row == 1))
    ax.tick_params(axis='y', labelleft=(col != 2))
    for s in ax.spines.values():
        s.set_linewidth(3)

    ax.text(0.755, 0.856, band_names[k], transform=ax.transAxes, color=band_colors[k],
            fontsize=20, ha='center', va='baseline')

handles = [
    Line2D([], [], ls='none', marker='o', ms=8, mfc=BLUE, mec='k', mew=0.8),
    Line2D([], [], ls='none', marker='s', ms=8, mfc=GREEN, mec='k', mew=0.8),
    Line2D([], [], ls='none', marker='D', ms=5, mfc=ORANGE, mec='k', mew=0.8),
    Line2D([], [], ls='none', marker='^', ms=8, mfc=RED, mec='k', mew=0.8),
    Line2D([], [], ls='none', marker='D', ms=5, mfc='none', mec=GREY, mew=1.2),
    Line2D([], [], ls='none', marker='o', ms=8, mfc='none', mec=GREY, mew=1.2),
]
leg = fig.legend(handles, legend_labels, loc='lower left', mode='expand', ncol=6,
                 bbox_to_anchor=(97 / W, 1 - 35 / H, 1205 / W, 32 / H), borderaxespad=0,
                 fontsize=15, handlelength=0.8, handletextpad=0.3, columnspacing=0.8,
                 frameon=True, fancybox=False, borderpad=0.25,
                 labelcolor=[BLUE, GREEN, ORANGE, RED, '#707070', '#707070'])
leg.get_frame().set_edgecolor('k')
leg.get_frame().set_linewidth(2.2)

fig.text(22 / W, 1 - 370 / H, 'MAG (AB)', rotation=90, fontsize=21, ha='center', va='center')
fig.text(689 / W, 1 - 750 / H, 'Phase from B\u2212band maximum (rest\u2212frame days)',
         fontsize=20.5, ha='center', va='center')

fig.savefig('out.png', dpi=100)
